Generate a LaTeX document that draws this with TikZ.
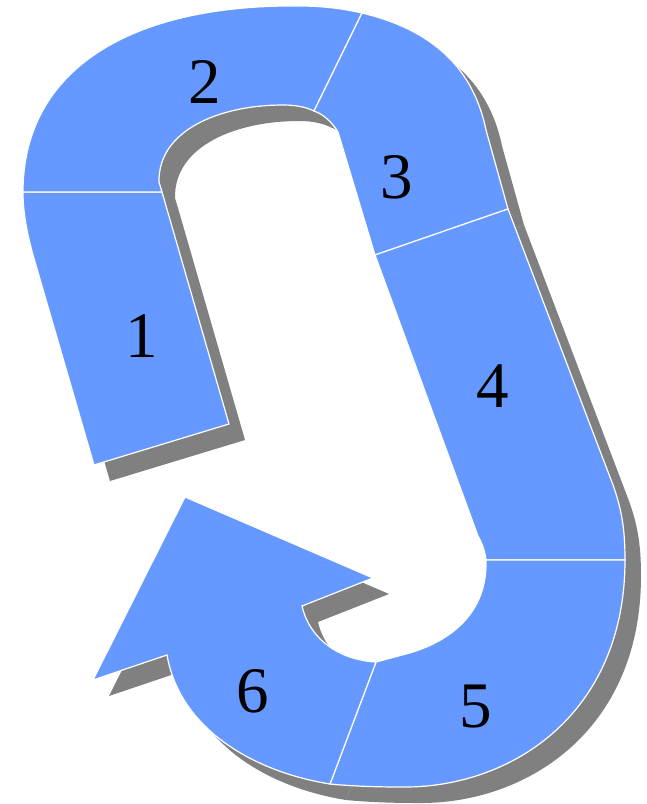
\documentclass[tikz,border=0pt]{standalone}
\usepackage{fontspec}
\setmainfont{Liberation Serif}
\usepackage{tikz}
\definecolor{segblue}{RGB}{102,153,255}
\definecolor{shadowgray}{RGB}{128,128,128}

% outlines of the six pieces, in picture pixels (y grows downwards)
\newcommand{\segone}{(23,192) -- (162,192) -- (229,424) -- (94,465) -- (35,262)
  .. controls (28,238) and (23,215) .. (23,192) -- cycle}
\newcommand{\segtwo}{(23,192) -- (162,192) -- (159,182)
  .. controls (158,130) and (220,105) .. (283,105)
  .. controls (298,105) and (308,108) .. (314,111)
  -- (362,13)
  .. controls (340,8) and (320,6) .. (300,6)
  .. controls (130,4) and (23,70) .. (23,192) -- cycle}
\newcommand{\segthree}{(314,111) -- (362,13)
  .. controls (425,28) and (472,62) .. (486,130)
  -- (508,209) -- (375,255) -- (338,132)
  .. controls (332,122) and (323,114) .. (314,111) -- cycle}
\newcommand{\segfour}{(375,255) -- (508,209) -- (613,485)
  .. controls (622,510) and (625,530) .. (625,560)
  -- (486,560)
  .. controls (485,551) and (482,543) .. (478,536) -- cycle}
\newcommand{\segfive}{(486,560) -- (625,560)
  .. controls (625,715) and (510,789) .. (400,787)
  .. controls (375,787) and (350,786) .. (330,784)
  -- (376,662) -- (406,654)
  .. controls (440,645) and (488,620) .. (486,560) -- cycle}
\newcommand{\segsix}{(376,662) -- (330,784)
  .. controls (255,772) and (180,730) .. (167,655)
  -- (93,680) -- (185,497) -- (373,578) -- (302,606)
  .. controls (310,640) and (340,660) .. (376,662) -- cycle}

\begin{document}
\begin{tikzpicture}[x=1pt,y=-1pt,
    segshadow/.style={fill=shadowgray,shift={(16,16)}},
    segfill/.style={fill=segblue,draw=white,line width=1.2pt},
    seglabel/.style={font=\fontsize{65}{65}\selectfont,inner sep=0pt}]
  \useasboundingbox (0,0) rectangle (647,804);

  % shadows first, so that no piece is darkened
  \fill[segshadow] \segone;
  \fill[segshadow] \segtwo;
  \fill[segshadow] \segthree;
  \fill[segshadow] \segfour;
  \fill[segshadow] \segfive;
  \fill[segshadow] \segsix;

  % the pieces
  \filldraw[segfill] \segone;
  \filldraw[segfill] \segtwo;
  \filldraw[segfill] \segthree;
  \filldraw[segfill] \segfour;
  \filldraw[segfill] \segfive;
  \filldraw[segfill] \segsix;

  % numbers
  \node[seglabel] (n1) at (142,336) {1};
  \node[seglabel] (n2) at (205,82) {2};
  \node[seglabel] (n3) at (397,177) {3};
  \node[seglabel] (n4) at (493,386) {4};
  \node[seglabel] (n5) at (476,707) {5};
  \node[seglabel] (n6) at (253,691) {6};
\end{tikzpicture}
\end{document}
